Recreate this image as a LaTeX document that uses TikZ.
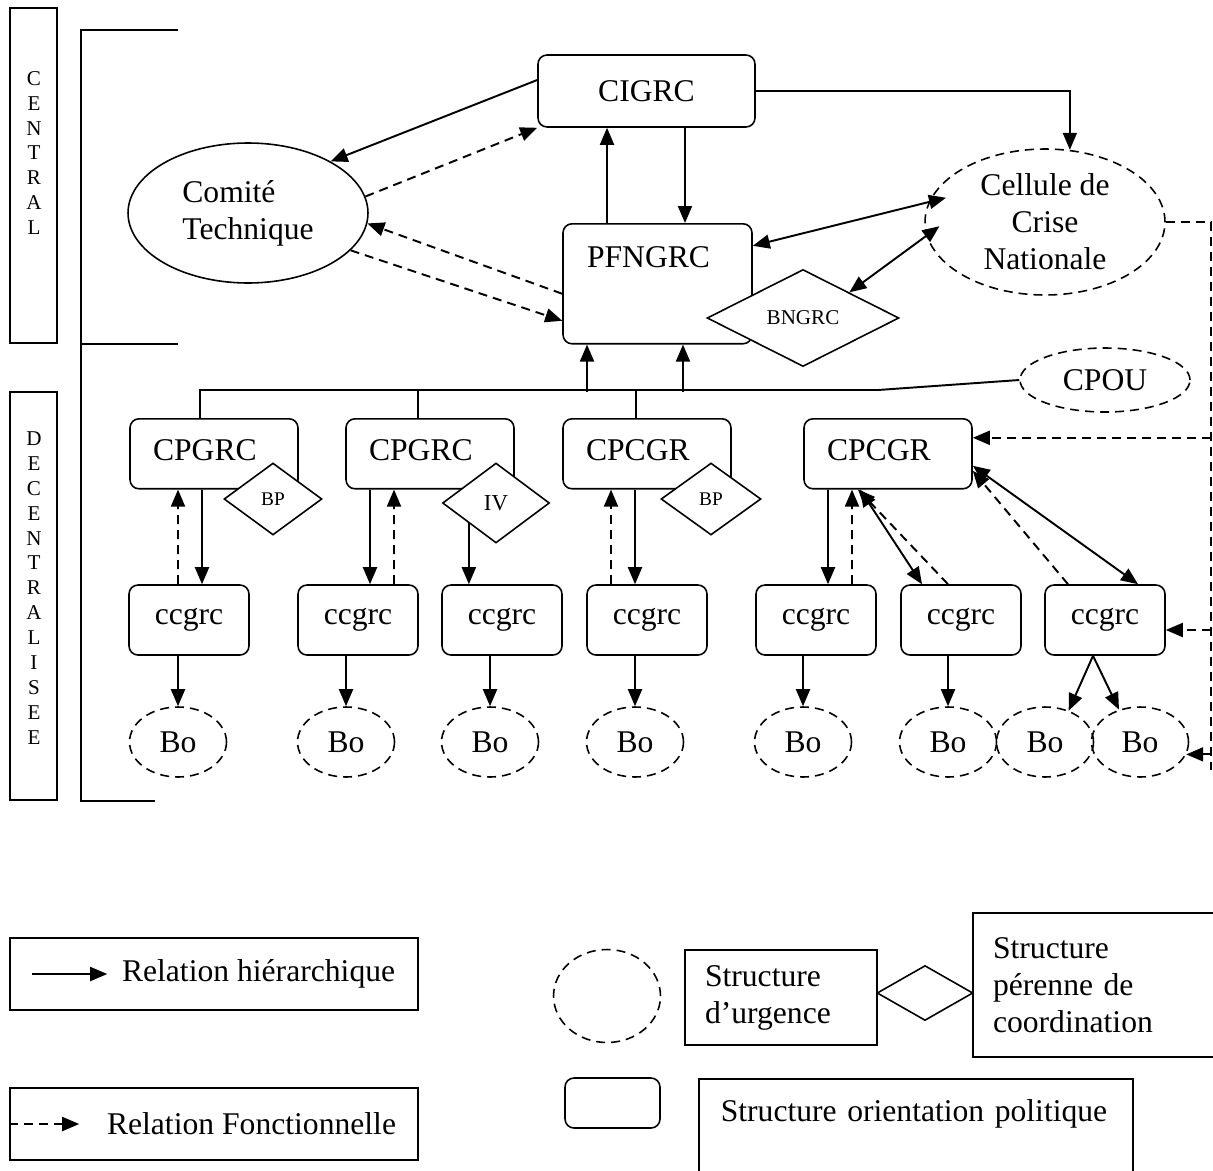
\documentclass[tikz,border=0pt]{standalone}
\usepackage{fontspec}
\setmainfont{Liberation Serif}
\usetikzlibrary{arrows.meta,calc,positioning,shapes.geometric}

\begin{document}
\begin{tikzpicture}[
  x=0.02cm, y=-0.02cm,
  >={Triangle[length=0.34cm,width=0.28cm]},
  line width=0.9pt,
  inst/.style={draw,rounded corners=0.18cm,fill=white,font=\fontsize{18}{21}\selectfont},
  cpbox/.style={inst,minimum width=3.36cm,text width=2.44cm,align=left,inner xsep=0.46cm,inner ysep=0pt,text height=0.84cm,text depth=0.56cm,anchor=north},
  ccbox/.style={inst,minimum width=2.4cm,minimum height=1.4cm},
  urg/.style={draw,ellipse,dash pattern=on 0.18cm off 0.12cm,inner sep=0pt,font=\fontsize{18}{21}\selectfont},
  bo/.style={urg,minimum width=1.94cm,minimum height=1.4cm},
  coord/.style={draw,diamond,fill=white,inner sep=0pt},
  hier/.style={->,line width=1.1pt},
  both/.style={<->,line width=1.1pt},
  fonc/.style={->,line width=1.1pt,dash pattern=on 0.18cm off 0.12cm},
  fline/.style={line width=1.1pt,dash pattern=on 0.18cm off 0.12cm},
  tie/.style={line width=1.1pt},
  leg/.style={draw,font=\fontsize{18}{21}\selectfont},
  legtxt/.style={font=\fontsize{18}{21}\selectfont,inner sep=0pt,anchor=west},
  vert/.style={align=center,font=\fontsize{12}{14.2}\selectfont}
]
\useasboundingbox (0,0) rectangle (1213,1170);

% levels on the left
\node[draw,minimum width=0.94cm,minimum height=6.7cm] (cbar) at (33.5,175.5) {};
\node[vert] (ctxt) at (34,153) {C\\E\\N\\T\\R\\A\\L};
\node[draw,minimum width=0.94cm,minimum height=8.16cm] (dbar) at (33.5,596) {};
\node[vert] (dtxt) at (34,588) {D\\E\\C\\E\\N\\T\\R\\A\\L\\I\\S\\E\\E};
\draw (178,30) -- (81,30) -- (81,801) -- (155,801);
\draw (81,344) -- (178,344);

% central level
\node[inst,minimum width=4.34cm,minimum height=1.44cm] (cig) at (646.5,91) {CIGRC};
\node[draw,ellipse,minimum width=4.8cm,minimum height=2.8cm,align=left,font=\fontsize{18}{21}\selectfont] (ct) at (248,213) {Comité\\Technique};
\node[inst,minimum width=3.78cm,text width=2.82cm,align=left,inner xsep=0.48cm,inner ysep=0pt,text height=0.88cm,text depth=1.52cm,anchor=north] (pf) at (657.5,223) {PFNGRC};
\node[coord,minimum width=3.84cm,minimum height=1.94cm,font=\fontsize{12}{14}\selectfont] (bn) at (803,318) {BNGRC};
\node[urg,minimum width=4.8cm,minimum height=2.92cm,align=center] (cn) at (1045,222) {Cellule de\\Crise\\Nationale};
\node[urg,minimum width=3.4cm,minimum height=1.28cm] (cpou) at (1105,380) {CPOU};

% decentralised level
\node[cpbox] (p1) at (214,418) {CPGRC};
\node[cpbox] (p2) at (430,418) {CPGRC};
\node[cpbox] (p3) at (647,418) {CPCGR};
\node[cpbox] (p4) at (888,418) {CPCGR};
\node[coord,minimum width=1.96cm,minimum height=1.44cm,font=\fontsize{11}{13}\selectfont] (bp1) at (273,499) {BP};
\node[coord,minimum width=2.14cm,minimum height=1.6cm,font=\fontsize{13}{15}\selectfont] (iv) at (496,503) {IV};
\node[coord,minimum width=2cm,minimum height=1.44cm,font=\fontsize{11}{13}\selectfont] (bp3) at (711,499) {BP};
\foreach \i/\x in {1/189,2/358,3/502,4/647,5/816,6/961,7/1105}
  \node[ccbox] (c\i) at (\x,620) {ccgrc};
\foreach \i/\x in {1/178,2/346,3/490,4/635,5/803,6/948,7/1045,8/1140}
  \node[bo] (b\i) at (\x,742) {Bo};

% central links
\draw[hier] ([yshift=0.22cm]cig.west) -- (ct.32);
\draw[fonc] (ct.8) -- (cig.south west);
\draw[fonc] ([yshift=-0.2cm]pf.west) -- (ct.355);
\draw[fonc] (ct.340) -- ([yshift=-0.74cm]pf.west);
\draw[hier] ([xshift=-1.01cm]pf.north) -- ([xshift=-0.79cm]cig.south);
\draw[hier] ([xshift=0.77cm]cig.south) -- ([xshift=0.55cm]pf.north);
\draw[hier] (cig.east) -| (cn.71);
\draw[both] ([yshift=0.76cm]pf.east) -- ([xshift=0.3cm]cn.168);
\draw[both] (bn.29) -- ([xshift=0.3cm]cn.182);

% bus to the CP structures
\coordinate (busR) at (878,390);
\draw[tie] ([xshift=-0.28cm]p1.north) |- (busR) -- (cpou.west);
\foreach \n/\d in {p2/-0.24,p3/-0.22}
  \draw[tie] ([xshift=\d cm]\n.north) -- ++(0,-28);
\draw[hier] ([xshift=-1.41cm,yshift=-0.94cm]pf.south) -- ([xshift=-1.41cm]pf.south);
\draw[hier] ([xshift=0.51cm,yshift=-0.94cm]pf.south) -- ([xshift=0.51cm]pf.south);

% CP to ccgrc
\draw[fonc] ([xshift=-0.22cm]c1.north) -- ([xshift=-0.72cm]p1.south);
\draw[hier] ([xshift=-0.24cm]p1.south) -- ([xshift=0.26cm]c1.north);
\draw[hier] ([xshift=-1.2cm]p2.south) -- ([xshift=0.24cm]c2.north);
\draw[fonc] ([xshift=0.72cm]c2.north) -- ([xshift=-0.72cm]p2.south);
\draw[hier] (iv.south west) -- (iv.south west |- c3.north);
\draw[fonc] ([xshift=-0.72cm]c4.north) -- ([xshift=-0.72cm]p3.south);
\draw[hier] ([xshift=-0.24cm]p3.south) -- ([xshift=-0.24cm]c4.north);
\draw[hier] ([xshift=-1.2cm]p4.south) -- ([xshift=0.24cm]c5.north);
\draw[fonc] ([xshift=0.72cm]c5.north) -- ([xshift=-0.72cm]p4.south);
\draw[both] ([xshift=-0.56cm]p4.south) -- ([xshift=-0.78cm]c6.north);
\draw[fonc] ([xshift=-0.26cm]c6.north) -- ([xshift=-0.6cm]p4.south);
\draw[both] ([yshift=-0.24cm]p4.east) -- ([xshift=0.66cm]c7.north);
\draw[fonc] ([xshift=-0.74cm]c7.north) -- ([yshift=-0.34cm]p4.east);

% ccgrc to Bo
\foreach \i in {1,...,6}
  \draw[hier] (b\i.north |- c\i.south) -- (b\i.north);
\draw[hier] ([xshift=-0.24cm]c7.south) -- (b7.53);
\draw[hier] ([xshift=-0.24cm]c7.south) -- (b8.123);

% right dashed rail
\coordinate (rail) at (1211,770);
\coordinate (p4r) at ([yshift=0.32cm]p4.east);
\coordinate (c7r) at ([yshift=-0.2cm]c7.east);
\draw[fline] (cn.east) -| (rail);
\draw[fonc] (rail |- p4r) -- (p4r);
\draw[fonc] (rail |- c7r) -- (c7r);
\draw[fonc] (rail |- b8.345) -- (b8.345);

% legend
\node[leg,minimum width=8.16cm,minimum height=1.44cm] (lg1) at (214,974) {};
\node[legtxt] (lg1t) at ([xshift=2.24cm]lg1.west) {Relation hiérarchique};
\draw[hier] ([xshift=0.46cm]lg1.west) -- ([xshift=-0.28cm]lg1t.west);
\node[leg,minimum width=8.16cm,minimum height=1.44cm] (lg2) at (214,1124) {};
\node[legtxt] (lg2t) at ([xshift=1.94cm]lg2.west) {Relation Fonctionnelle};
\draw[fonc] (lg2.west) -- ([xshift=-0.54cm]lg2t.west);
\node[urg,minimum width=2.14cm,minimum height=1.86cm] (lgurg) at (607,996) {};
\node[leg,minimum width=3.84cm,minimum height=1.9cm,text width=3.04cm,align=left,inner xsep=0.4cm] (lgurgt) at (781,997.5) {Structure\\d’urgence};
\node[coord,minimum width=1.92cm,minimum height=1.1cm] (lgco) at (925,993) {};
\node[leg,minimum width=4.86cm,minimum height=2.88cm,text width=4.06cm,align=left,inner xsep=0.4cm] (lgcot) at (1094.5,985) {Structure\\pérenne de\\coordination};
\node[inst,minimum width=1.9cm,minimum height=1cm] (lgpol) at (612.5,1103) {};
\node[leg,minimum width=8.68cm,text width=7.8cm,align=left,inner xsep=0.44cm,inner ysep=0pt,text height=0.86cm,text depth=1.08cm,anchor=north west] (lgpolt) at (698,1078) {Structure orientation politique};
\end{tikzpicture}
\end{document}
